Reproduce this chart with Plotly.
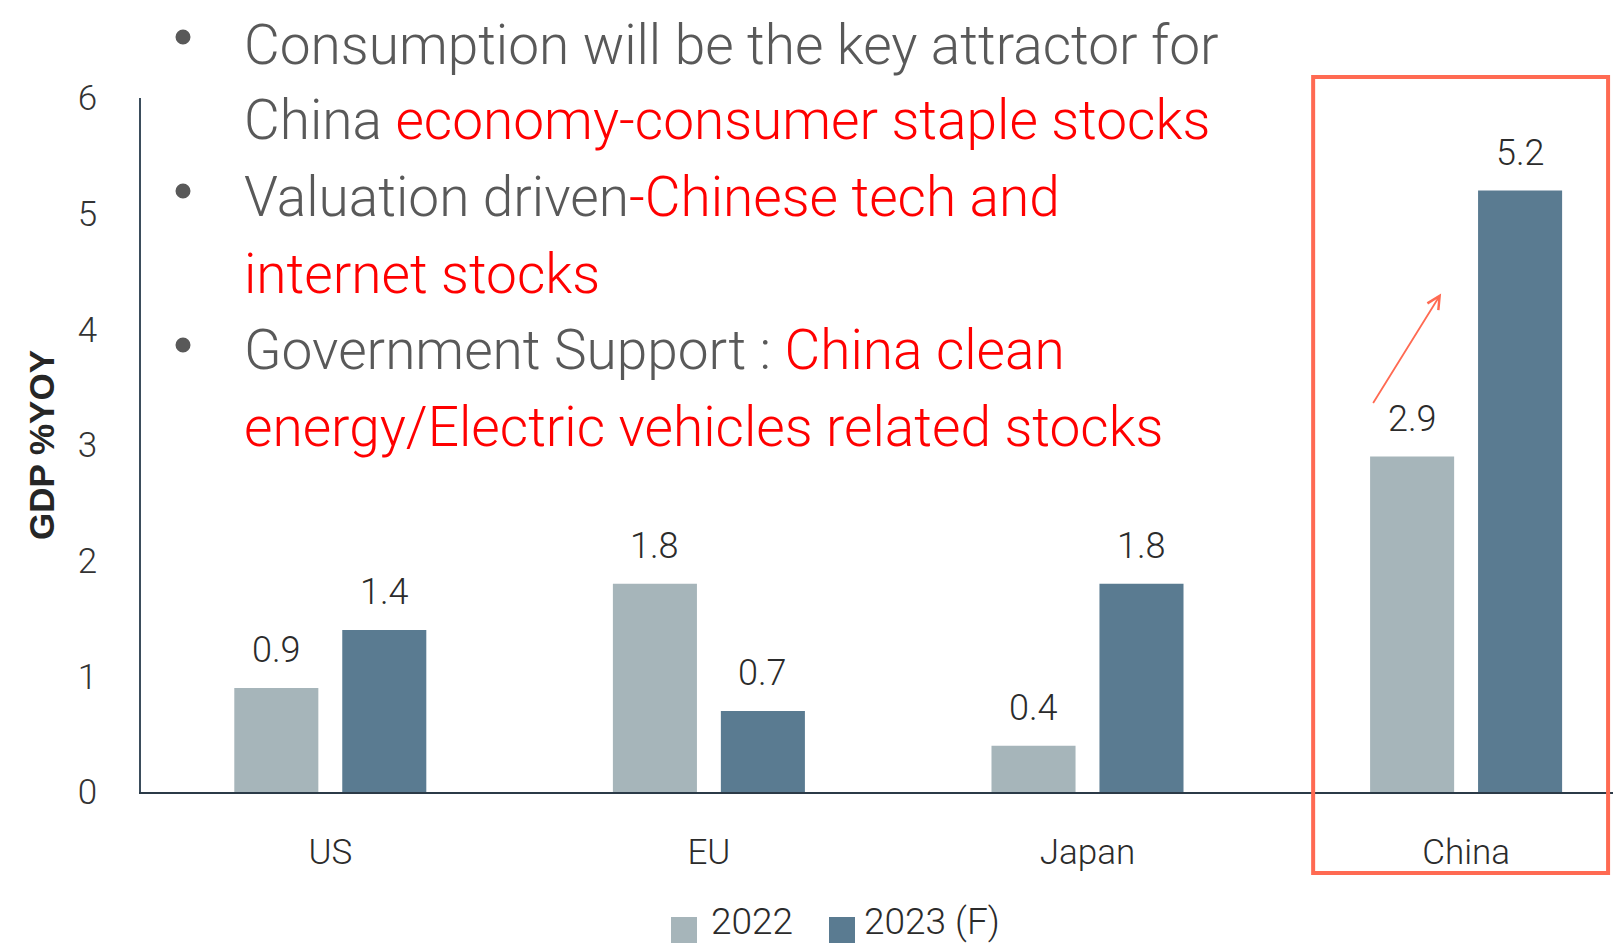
import plotly.graph_objects as go

categories = ["US", "EU", "Japan", "China"]
series_names = ["2022", "2023 (F)"]
values_2022 = [0.9, 1.8, 0.4, 2.9]
values_2023 = [1.4, 0.7, 1.8, 5.2]
y_ticks = [0, 1, 2, 3, 4, 5, 6]

colors = ["#A6B5BA", "#5A7B91"]
FONT = "Roboto"
WT = 300
GRAY = "#595959"
RED = "#FF0000"
DARK = "#2B2B2B"
BOX = "#FF6A52"

W, H = 1613, 945
L, R, T, B = 141, 0, 98, 153
PW, PH = W - L - R, H - T - B
CAT_W = 378.6
x_right = -0.5 + PW / CAT_W

BAR_W = 0.222
OFF = 0.1426


def px_x(x):
    return (x - L) / PW


def px_y(y):
    return (T + PH - y) / PH


fig = go.Figure()
xs = list(range(len(categories)))
for name, vals, col, off in [(series_names[0], values_2022, colors[0], -OFF),
                             (series_names[1], values_2023, colors[1], OFF)]:
    fig.add_trace(go.Bar(
        x=[i + off for i in xs], y=vals, name=name, width=BAR_W,
        marker=dict(color=col, line=dict(width=0)), showlegend=False,
    ))
    for i, v in zip(xs, vals):
        fig.add_annotation(x=i + off, y=v, xref="x", yref="y", text=f"{v:.1f}",
                           showarrow=False, yanchor="middle", yshift=38,
                           font=dict(family=FONT, size=36, color=DARK, weight=WT))

# bullet text block
lines = [
    (62, f"<span style='color:{GRAY}'>Consumption will be the key attractor for</span>", True),
    (137, f"<span style='color:{GRAY}'>China </span><span style='color:{RED}'>economy-consumer staple stocks</span>", False),
    (214, f"<span style='color:{GRAY}'>Valuation driven</span><span style='color:{RED}'>-Chinese tech and</span>", True),
    (291, f"<span style='color:{RED}'>internet stocks</span>", False),
    (367, f"<span style='color:{GRAY}'>Government Support : </span><span style='color:{RED}'>China clean</span>", True),
    (444, f"<span style='color:{RED}'>energy/Electric vehicles related stocks</span>", False),
]
bullet_y = {62: 37, 214: 191, 367: 345}
for base, txt, bullet in lines:
    fig.add_annotation(x=px_x(242), y=px_y(base - 17), xref="paper", yref="paper",
                       text=txt, showarrow=False, xanchor="left", yanchor="middle",
                       font=dict(family=FONT, size=55, color=GRAY, weight=WT))
    if bullet:
        cy = bullet_y[base]
        r = 7.5
        fig.add_shape(type="circle", xref="paper", yref="paper",
                      x0=px_x(183 - r), x1=px_x(183 + r), y0=px_y(cy + r), y1=px_y(cy - r),
                      fillcolor=GRAY, line=dict(width=0))

# highlight box around China
fig.add_shape(type="rect", xref="x", yref="paper",
              x0=2.596, x1=3.375, y0=px_y(873), y1=px_y(77),
              line=dict(color=BOX, width=4), fillcolor="rgba(0,0,0,0)", layer="above")

# arrow
fig.add_annotation(x=2.934, y=4.31, ax=2.752, ay=3.35, xref="x", yref="y",
                   axref="x", ayref="y", text="", showarrow=True,
                   arrowhead=5, arrowsize=1.4, arrowwidth=1.8, arrowcolor=BOX)

# legend (drawn manually to match large square swatches)
leg_items = [(671, 709, series_names[0], colors[0]), (829, 862, series_names[1], colors[1])]
for sx, tx, name, col in leg_items:
    fig.add_shape(type="rect", xref="paper", yref="paper",
                  x0=px_x(sx), x1=px_x(sx + 26), y0=px_y(943), y1=px_y(917),
                  fillcolor=col, line=dict(width=0))
    fig.add_annotation(x=px_x(tx), y=px_y(945), xref="paper", yref="paper", text=name,
                       showarrow=False, xanchor="left", yanchor="bottom",
                       font=dict(family=FONT, size=37, color=DARK, weight=WT))

fig.update_layout(
    width=W, height=H,
    margin=dict(l=L, r=R, t=T, b=B, autoexpand=False),
    plot_bgcolor="white", paper_bgcolor="white",
    barmode="overlay",
    showlegend=False,
    xaxis=dict(range=[-0.5, x_right], tickvals=xs, ticktext=categories,
               showgrid=False, zeroline=False, showline=True, linecolor="#2B3A47", linewidth=2,
               ticks="", ticklabelstandoff=28,
               tickfont=dict(family=FONT, size=35, color=DARK, weight=WT)),
    yaxis=dict(range=[0, 6], tickvals=y_ticks, showgrid=False, zeroline=False,
               showline=True, linecolor="#3B4D5C", linewidth=1.5, ticks="",
               ticklabelstandoff=35,
               tickfont=dict(family=FONT, size=35, color="#333333", weight=WT),
               title=dict(text="<b>GDP %YOY</b>",
                          font=dict(family="Liberation Sans", size=35, color="#262626"),
                          standoff=13)),
)
fig.write_html("out.html")
